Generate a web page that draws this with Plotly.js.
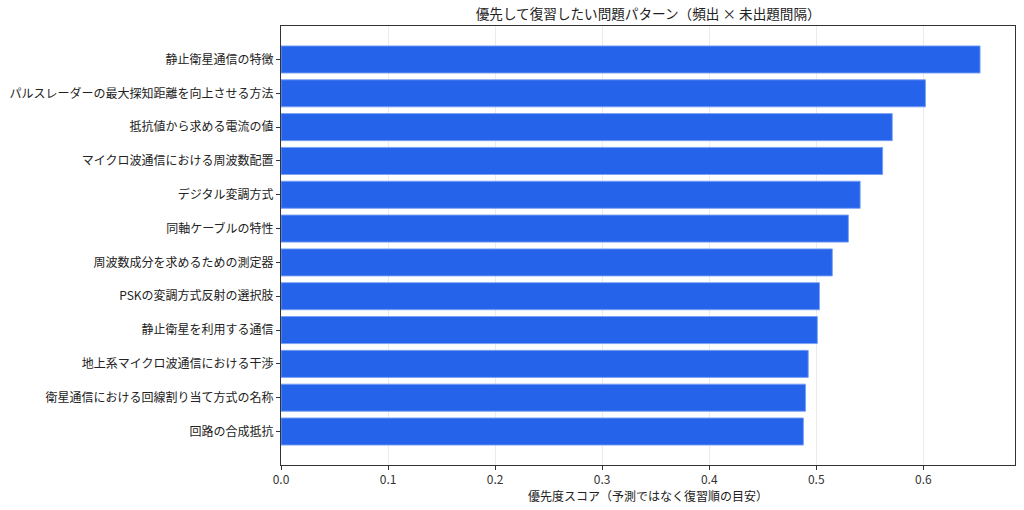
<!DOCTYPE html>
<html>
<head>
<meta charset="utf-8">
<script src="https://cdn.plot.ly/plotly-3.0.1.min.js"></script>
<style>html,body{margin:0;padding:0;background:#fff;}#chart{width:1024px;height:510px;}</style>
</head>
<body>
<div id="chart"></div>
<script>
const categories = [
  "静止衛星通信の特徴",
  "パルスレーダーの最大探知距離を向上させる方法",
  "抵抗値から求める電流の値",
  "マイクロ波通信における周波数配置",
  "デジタル変調方式",
  "同軸ケーブルの特性",
  "周波数成分を求めるための測定器",
  "PSKの変調方式反射の選択肢",
  "静止衛星を利用する通信",
  "地上系マイクロ波通信における干渉",
  "衛星通信における回線割り当て方式の名称",
  "回路の合成抵抗"
];
const scores = [0.653, 0.602, 0.571, 0.562, 0.541, 0.530, 0.515, 0.503, 0.501, 0.4925, 0.490, 0.488];
const xTicks = [0, 0.1, 0.2, 0.3, 0.4, 0.5, 0.6];
const xTickLabels = ["0.0", "0.1", "0.2", "0.3", "0.4", "0.5", "0.6"];
const titleText = "優先して復習したい問題パターン（頻出 × 未出題間隔）";
const xTitleText = "優先度スコア（予測ではなく復習順の目安）";

const font = "'Noto Sans CJK JP', 'DejaVu Sans', sans-serif";
const n = categories.length;
const xmax = Math.max(...scores) * 1.05;

const trace = {
  type: "bar",
  orientation: "h",
  x: scores,
  y: categories,
  marker: {color: "#2563eb", line: {color: "rgba(120,160,245,0.9)", width: 1}},
  hoverinfo: "x+y"
};

const layout = {
  width: 1024, height: 510,
  margin: {l: 281, r: 9, t: 26, b: 45},
  paper_bgcolor: "#fff", plot_bgcolor: "#fff",
  bargap: 0.2,
  showlegend: false,
  font: {family: font, size: 12, color: "#222"},
  title: {text: titleText, font: {family: font, size: 13.6, color: "#222"}, x: 0.633, xanchor: "center", y: 0.972, yanchor: "middle"},
  xaxis: {
    range: [0, xmax],
    tickvals: xTicks, ticktext: xTickLabels,
    showgrid: true, gridcolor: "rgba(0,0,0,0.08)", gridwidth: 1,
    zeroline: false,
    showline: true, linecolor: "#333", linewidth: 1, mirror: true,
    ticks: "outside", ticklen: 4, tickcolor: "#333",
    tickfont: {size: 12, color: "#333"},
    title: {text: xTitleText, font: {size: 12, color: "#222"}, standoff: 4}
  },
  yaxis: {
    type: "category",
    range: [n - 1 + 0.99, -0.99],
    showgrid: false, zeroline: false,
    showline: true, linecolor: "#333", linewidth: 1, mirror: true,
    ticks: "outside", ticklen: 4, tickcolor: "#333",
    tickfont: {size: 12, color: "#222"}
  }
};

Plotly.newPlot("chart", [trace], layout, {displayModeBar: false, staticPlot: true});
</script>
</body>
</html>
